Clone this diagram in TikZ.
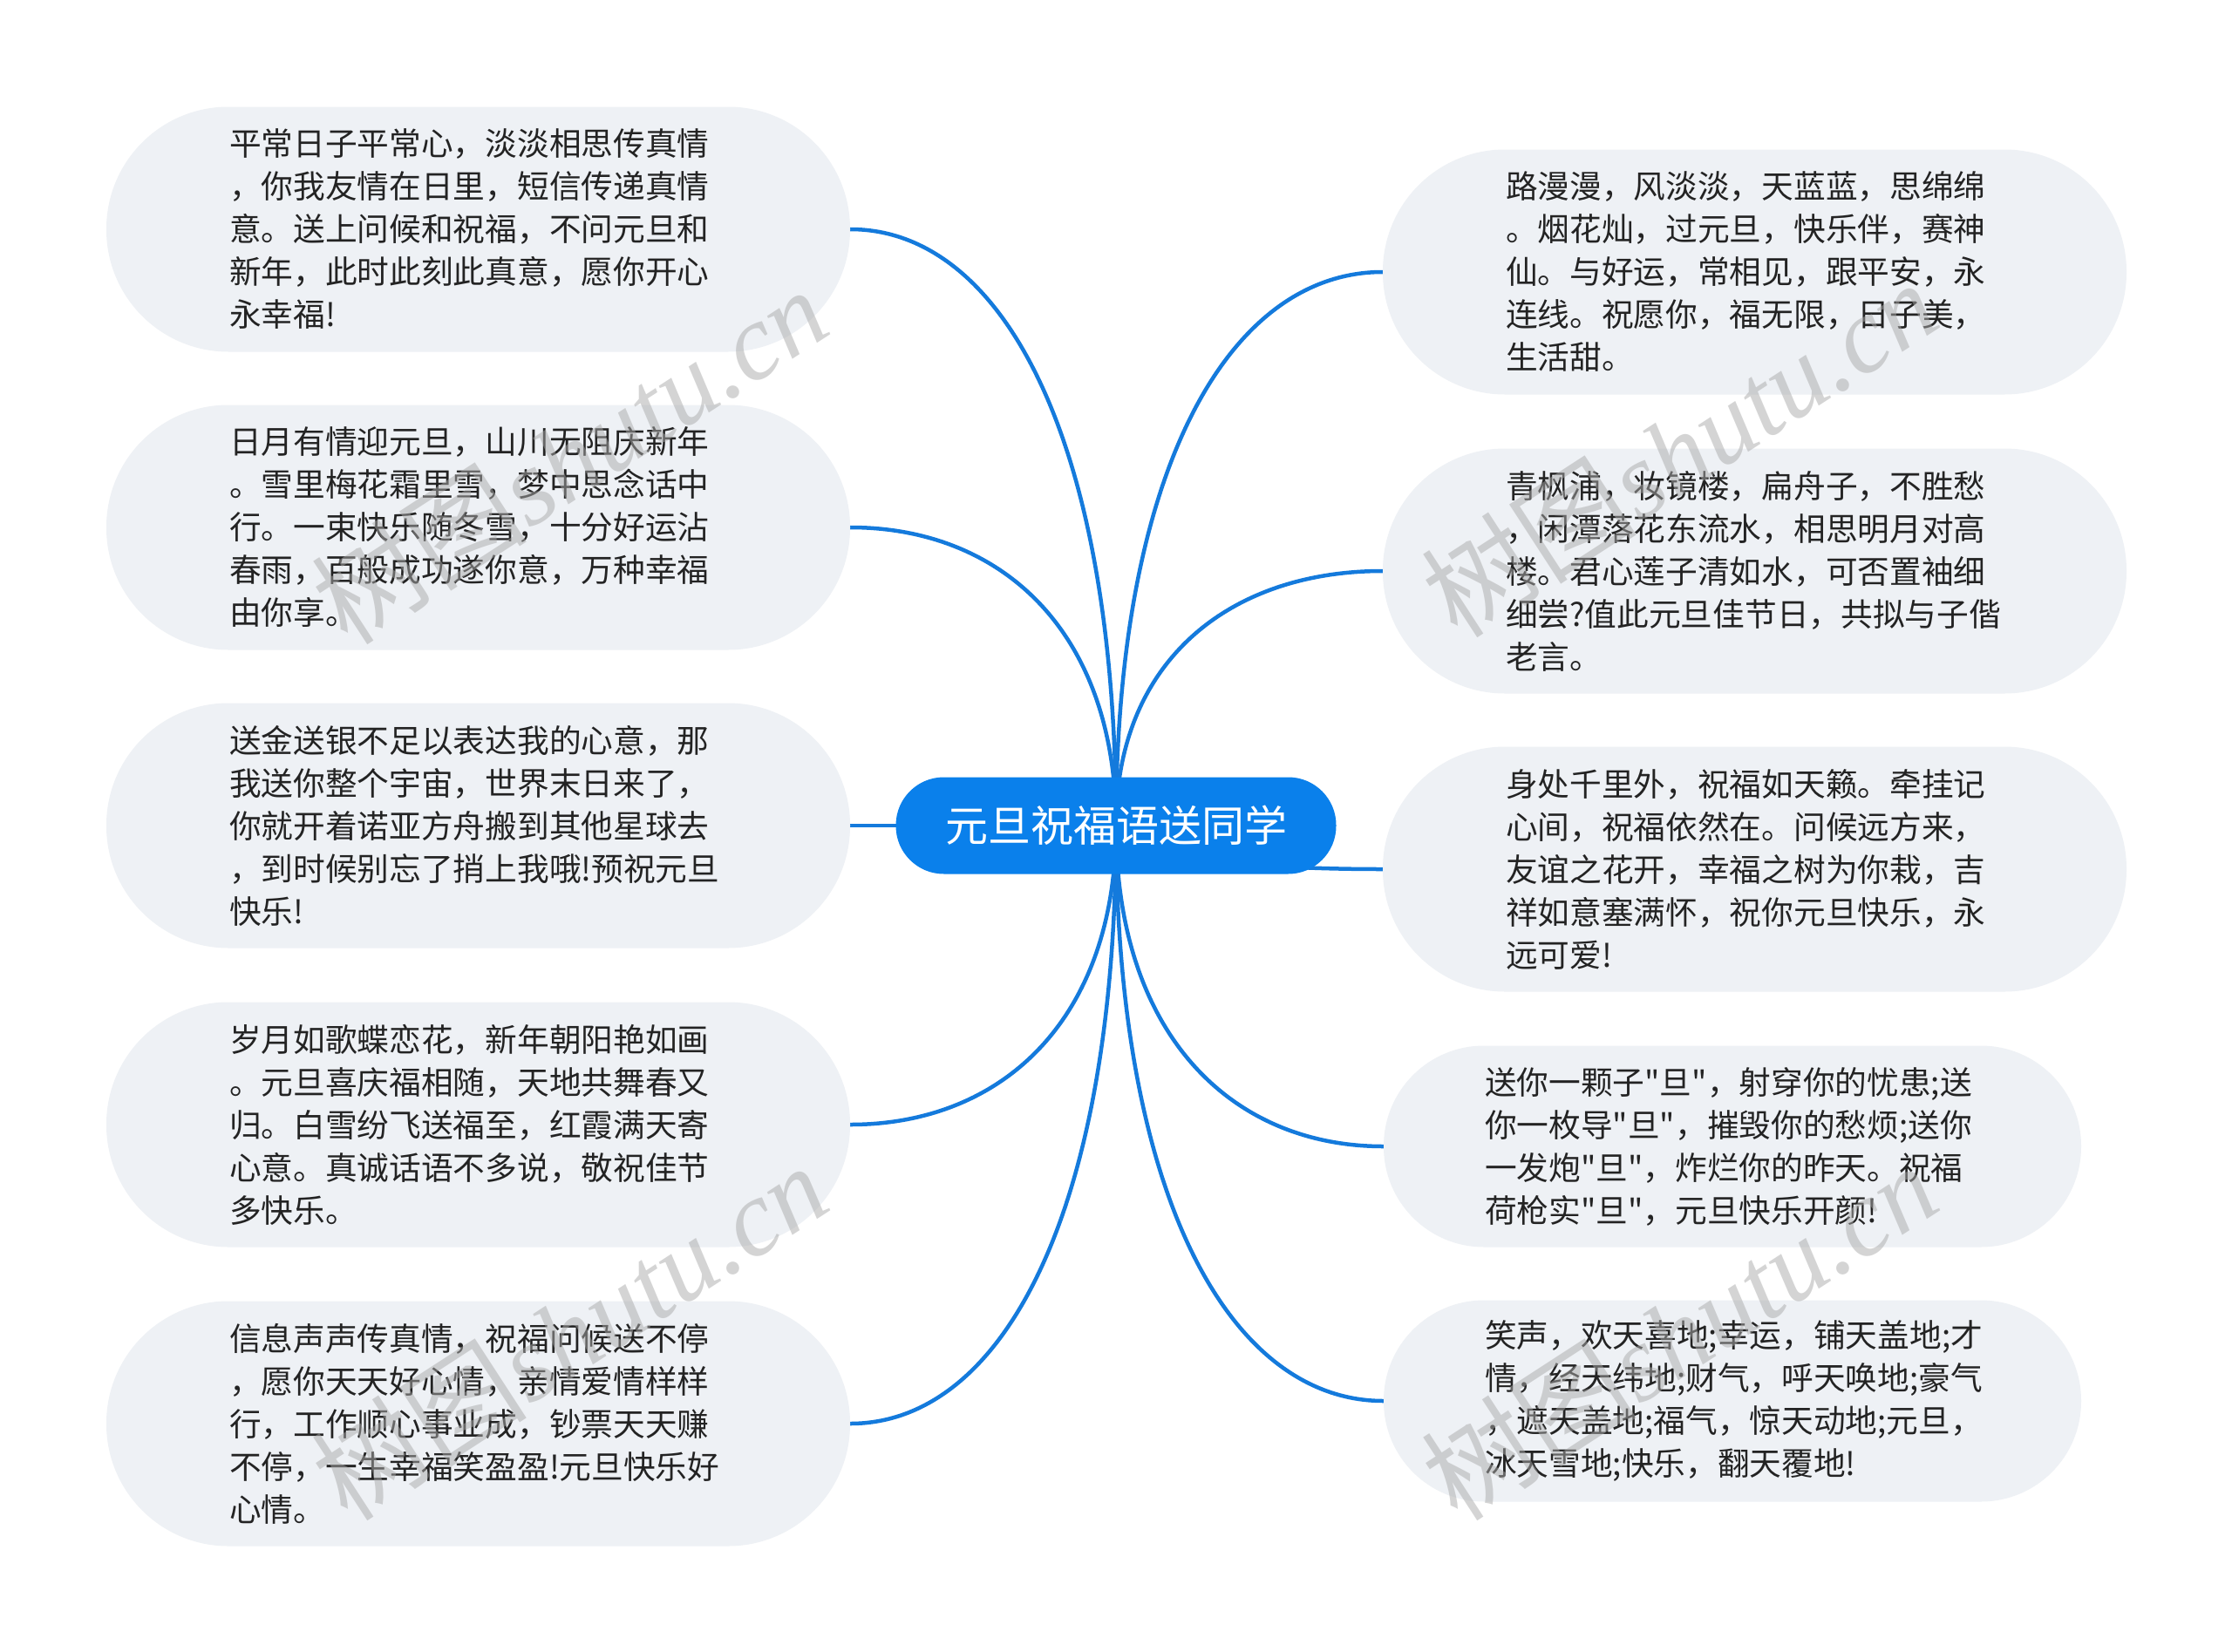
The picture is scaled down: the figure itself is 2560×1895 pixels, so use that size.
\documentclass[tikz,border=0pt]{standalone}
\usepackage{fontspec}
\newfontfamily\cjk{Noto Sans CJK SC}
\newfontfamily\wmserif{Liberation Serif}
\usetikzlibrary{backgrounds,calc}
\definecolor{edgeblue}{RGB}{20,122,220}
\definecolor{rootblue}{RGB}{10,128,235}
\definecolor{leaffill}{RGB}{238,241,245}
\definecolor{leaftext}{RGB}{35,35,35}
\definecolor{wmgray}{RGB}{170,170,170}
\newcommand\mmlink[2]{\draw[edge] (root.center) .. controls ($(root.center)!0.65!(root.center|-#1.#2)$) and ($(root.center|-#1.#2)!0.43!(#1.#2)$) .. (#1.#2);}
\begin{document}
\begin{tikzpicture}[x=1pt,y=-1pt,
  leaf/.style={fill=leaffill, text=leaftext, align=left, inner ysep=0pt, font=\cjk\fontsize{36.7}{49}\selectfont},
  leafbig/.style={leaf, text width=571pt, inner xsep=141pt, minimum height=281pt, rounded corners=140pt},
  leafsmall/.style={leaf, text width=568pt, inner xsep=116pt, minimum height=231pt, rounded corners=115pt},
  rootnode/.style={fill=rootblue, text=white, minimum width=505pt, minimum height=111pt, rounded corners=55pt, font=\cjk\fontsize{49}{55}\selectfont, inner sep=0pt},
  edge/.style={draw=edgeblue, line width=4.5pt},
  watermark/.style={text=wmgray, opacity=0.5, rotate=33, inner sep=0pt, font=\fontsize{124}{130}\selectfont}
]
\useasboundingbox (0,0) rectangle (2560,1895);

\node[rootnode] (root) at (1280,947) {元旦祝福语送同学};

\node[leafbig] (L1) at (548.5,263) {平常日子平常心，淡淡相思传真情\\，你我友情在日里，短信传递真情\\意。送上问候和祝福，不问元旦和\\新年，此时此刻此真意，愿你开心\\永幸福!};
\node[leafbig] (L2) at (548.5,605) {日月有情迎元旦，山川无阻庆新年\\。雪里梅花霜里雪，梦中思念话中\\行。一束快乐随冬雪，十分好运沾\\春雨，百般成功遂你意，万种幸福\\由你享。};
\node[leafbig] (L3) at (548.5,947) {送金送银不足以表达我的心意，那\\我送你整个宇宙，世界末日来了，\\你就开着诺亚方舟搬到其他星球去\\，到时候别忘了捎上我哦!预祝元旦\\快乐!};
\node[leafbig] (L4) at (548.5,1290) {岁月如歌蝶恋花，新年朝阳艳如画\\。元旦喜庆福相随，天地共舞春又\\归。白雪纷飞送福至，红霞满天寄\\心意。真诚话语不多说，敬祝佳节\\多快乐。};
\node[leafbig] (L5) at (548.5,1633) {信息声声传真情，祝福问候送不停\\，愿你天天好心情，亲情爱情样样\\行，工作顺心事业成，钞票天天赚\\不停，一生幸福笑盈盈!元旦快乐好\\心情。};

\node[leafbig] (R1) at (2012.5,312) {路漫漫，风淡淡，天蓝蓝，思绵绵\\。烟花灿，过元旦，快乐伴，赛神\\仙。与好运，常相见，跟平安，永\\连线。祝愿你，福无限，日子美，\\生活甜。};
\node[leafbig] (R2) at (2012.5,655) {青枫浦，妆镜楼，扁舟子，不胜愁\\，闲潭落花东流水，相思明月对高\\楼。君心莲子清如水，可否置袖细\\细尝?值此元旦佳节日，共拟与子偕\\老言。};
\node[leafbig] (R3) at (2012.5,997) {身处千里外，祝福如天籁。牵挂记\\心间，祝福依然在。问候远方来，\\友谊之花开，幸福之树为你栽，吉\\祥如意塞满怀，祝你元旦快乐，永\\远可爱!};
\node[leafsmall] (R4) at (1987,1315) {送你一颗子"旦"，射穿你的忧患;送\\你一枚导"旦"，摧毁你的愁烦;送你\\一发炮"旦"，炸烂你的昨天。祝福\\荷枪实"旦"，元旦快乐开颜!};
\node[leafsmall] (R5) at (1987,1607) {笑声，欢天喜地;幸运，铺天盖地;才\\情，经天纬地;财气，呼天唤地;豪气\\，遮天盖地;福气，惊天动地;元旦，\\冰天雪地;快乐，翻天覆地!};

\begin{pgfonlayer}{background}
\fill[white] (0,0) rectangle (2560,1895);
\mmlink{L1}{east}
\mmlink{L2}{east}
\mmlink{L3}{east}
\mmlink{L4}{east}
\mmlink{L5}{east}
\mmlink{R1}{west}
\mmlink{R2}{west}
\mmlink{R3}{west}
\mmlink{R4}{west}
\mmlink{R5}{west}
\end{pgfonlayer}

\node[watermark] (wm1) at (653,522) {{\cjk 树图}{\wmserif\itshape shutu.cn}};
\node[watermark] (wm2) at (653,1527) {{\cjk 树图}{\wmserif\itshape shutu.cn}};
\node[watermark] (wm3) at (1926,514) {{\cjk 树图}{\wmserif\itshape shutu.cn}};
\node[watermark] (wm4) at (1926,1527) {{\cjk 树图}{\wmserif\itshape shutu.cn}};
\end{tikzpicture}
\end{document}
